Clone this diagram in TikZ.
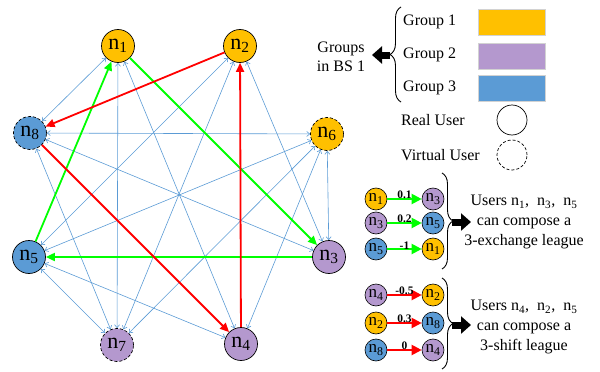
\documentclass[tikz,border=0pt]{standalone}
\usepackage{fontspec}
\setmainfont{Liberation Serif}
\usetikzlibrary{arrows.meta,decorations.pathreplacing}
\definecolor{gy}{RGB}{255,192,0}
\definecolor{gp}{RGB}{180,152,206}
\definecolor{gb}{RGB}{91,155,213}
\definecolor{eb}{RGB}{91,155,213}
\definecolor{eg}{RGB}{0,255,0}
\definecolor{er}{RGB}{255,0,0}
\newcommand\nsub[1]{n\textsubscript{#1}}
\begin{document}
\begin{tikzpicture}[x=1pt,y=-1pt,
 user/.style={circle,draw=black,line width=0.7pt,minimum size=33pt,inner sep=0pt,font=\fontsize{22}{22}\selectfont},
 virt/.style={user,dash pattern=on 3pt off 2pt},
 suser/.style={circle,draw=black,line width=0.6pt,minimum size=22pt,inner sep=0pt,font=\fontsize{17}{17}\selectfont},
 blueedge/.style={draw=eb,line width=0.6pt,{Straight Barb[length=3pt,width=5pt]}-{Straight Barb[length=3pt,width=5pt]}},
 gedge/.style={draw=eg,line width=1.8pt,-{Triangle[length=9pt,width=8pt]}},
 redge/.style={draw=er,line width=1.8pt,-{Triangle[length=9pt,width=8pt]}},
 sgedge/.style={draw=eg,line width=2pt,-{Triangle[length=10pt,width=10pt]}},
 sredge/.style={draw=er,line width=2pt,-{Triangle[length=10pt,width=10pt]}},
 wlab/.style={font=\bfseries\fontsize{11.5}{11.5}\selectfont,inner sep=1pt},
 txt/.style={font=\fontsize{16}{19}\selectfont,inner sep=0pt},
 swatch/.style={draw={rgb,255:red,210;green,210;blue,210},line width=0.6pt},
 bigarrow/.style={line width=7pt,-{Triangle[length=10pt,width=17pt]}},
 brace/.style={decorate,decoration={brace,amplitude=11pt},line width=0.9pt}
]
\useasboundingbox (0,0) rectangle (600,372);

% main nodes
\node[user,fill=gy] (n1) at (118,46) {\nsub{1}};
\node[user,fill=gy] (n2) at (240,46) {\nsub{2}};
\node[virt,fill=gy] (n6) at (327,134) {\nsub{6}};
\node[user,fill=gp] (n3) at (329,257) {\nsub{3}};
\node[user,fill=gp] (n4) at (241,344) {\nsub{4}};
\node[virt,fill=gp] (n7) at (117,345) {\nsub{7}};
\node[user,fill=gb] (n5) at (29,257) {\nsub{5}};
\node[virt,fill=gb] (n8) at (30,133) {\nsub{8}};

% blue bidirectional edges
\foreach \a/\b in {n1/n8,n1/n7,n1/n4,n2/n3,n2/n5,n2/n7,n6/n8,n6/n5,n6/n7,n6/n4,n6/n3,n8/n3,n8/n7,n5/n4,n5/n7}
  \draw[blueedge] (\a) -- (\b);

% coloured edges
\draw[gedge] (n1) -- (n3);
\draw[gedge] (n3) -- (n5);
\draw[gedge] (n5) -- (n1);
\draw[redge] (n4) -- (n2);
\draw[redge] (n2) -- (n8);
\draw[redge] (n8) -- (n4);

% legend: groups
\node[txt,anchor=west] (g1) at (403,22) {Group 1};
\node[txt,anchor=west] (g2) at (403,55) {Group 2};
\node[txt,anchor=west] (g3) at (403,88) {Group 3};
\draw[swatch,fill=gy] (478,9) rectangle (545,35);
\draw[swatch,fill=gp] (478,43) rectangle (545,69);
\draw[swatch,fill=gb] (478,75) rectangle (545,101);
\coordinate (lb1) at (401,102);
\coordinate (lb2) at (401,7);
\draw[brace] (lb1) -- (lb2);
\coordinate (la1) at (390,55);
\coordinate (la2) at (372,55);
\draw[bigarrow] (la1) -- (la2);
\node[txt,align=center] (gbs) at (341,57) {Groups\\in BS 1};

\node[txt,anchor=west] (ru) at (401,120) {Real User};
\node[txt,anchor=west] (vu) at (401,155) {Virtual User};
\node[circle,draw=black,line width=0.7pt,minimum size=30pt,inner sep=0pt] (rc) at (512,120) {};
\node[circle,draw=black,line width=0.7pt,dash pattern=on 3pt off 2pt,minimum size=30pt,inner sep=0pt] (vc) at (512,155) {};

% exchange league
\node[suser,fill=gy] (a1) at (376,199) {\nsub{1}};
\node[suser,fill=gp] (b1) at (433,199) {\nsub{3}};
\node[suser,fill=gp] (a2) at (376,223) {\nsub{3}};
\node[suser,fill=gb] (b2) at (433,223) {\nsub{5}};
\node[suser,fill=gb] (a3) at (376,249) {\nsub{5}};
\node[suser,fill=gy] (b3) at (433,249) {\nsub{1}};
\draw[sgedge] (a1) -- node[wlab,above=-2pt] {0.1} (b1);
\draw[sgedge] (a2) -- node[wlab,above=-2pt] {0.2} (b2);
\draw[sgedge] (a3) -- node[wlab,above=-2pt] {-1} (b3);
\coordinate (rb1) at (442,173);
\coordinate (rb2) at (442,269);
\draw[brace] (rb1) -- (rb2);
\coordinate (ra1) at (452,222);
\coordinate (ra2) at (471,222);
\draw[bigarrow] (ra1) -- (ra2);
\node[txt,align=center,font=\fontsize{16}{20}\selectfont] (ex) at (524,222) {Users \nsub{1},\ \ \nsub{3},\ \ \nsub{5}\\can compose a\\3-exchange league};

% shift league
\node[suser,fill=gp] (c1) at (376,295) {\nsub{4}};
\node[suser,fill=gy] (d1) at (433,295) {\nsub{2}};
\node[suser,fill=gy] (c2) at (376,323) {\nsub{2}};
\node[suser,fill=gb] (d2) at (433,323) {\nsub{8}};
\node[suser,fill=gb] (c3) at (376,350) {\nsub{8}};
\node[suser,fill=gp] (d3) at (433,350) {\nsub{4}};
\draw[sredge] (c1) -- node[wlab,above=-2pt] {-0.5} (d1);
\draw[sredge] (c2) -- node[wlab,above=-2pt] {0.3} (d2);
\draw[sredge] (c3) -- node[wlab,above=-2pt] {0} (d3);
\coordinate (sb1) at (442,278);
\coordinate (sb2) at (442,369);
\draw[brace] (sb1) -- (sb2);
\coordinate (sa1) at (452,325);
\coordinate (sa2) at (471,325);
\draw[bigarrow] (sa1) -- (sa2);
\node[txt,align=center,font=\fontsize{16}{20}\selectfont] (sh) at (524,327) {Users \nsub{4},\ \ \nsub{2},\ \ \nsub{5}\\can compose a\\3-shift league};
\end{tikzpicture}
\end{document}
